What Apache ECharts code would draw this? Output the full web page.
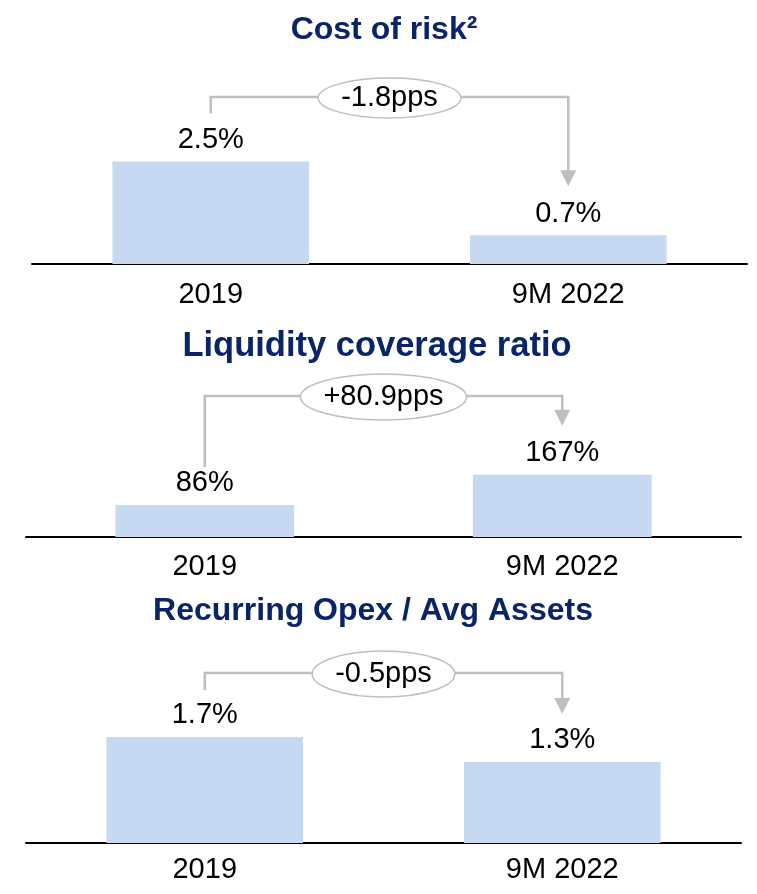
<!DOCTYPE html>
<html>
<head>
<meta charset="utf-8">
<script src="https://cdn.jsdelivr.net/npm/echarts@6/dist/echarts.min.js"></script>
<style>
  html, body { margin: 0; padding: 0; background: #ffffff; }
  #chart { width: 757px; height: 894px; }
</style>
</head>
<body>
<div id="chart"></div>
<script>
// Categories shared by all three panels
const categories = ['2019', '9M 2022'];

// Panel values
const costOfRisk = [2.5, 0.7];          // %
const liquidityCoverage = [86, 167];    // %
const opexToAssets = [1.7, 1.3];        // %

// Change annotations between the two periods
const changeLabels = ['-1.8pps', '+80.9pps', '-0.5pps'];

// Panel titles
const titles = ['Cost of risk\u00B2', 'Liquidity coverage ratio', 'Recurring Opex / Avg Assets'];

// Value label formats (decimals per panel)
const decimals = [1, 0, 1];

const FONT = '"Liberation Sans", Arial, sans-serif';
const NAVY = '#0A2468';
const BAR = '#C6D9F1';
const CONNECTOR = '#BFBFBF';
const LABEL_SIZE = 29;

// Layout of each panel: grid box, axis range, title placement, bracket geometry
const layout = [
  { grid: { left: 32, right: 10, top: 100, height: 164 }, yMax: 4,   barWidth: '55%', labelMargin: 16, titleX: 379, titleTop: 9,   titleSize: 32,   bracketY: 97,  stemGap: 48, tipGap: 49, ry: 20 },
  { grid: { left: 26, right: 16, top: 425, height: 112 }, yMax: 300, barWidth: '50%', labelMargin: 15, titleX: 372, titleTop: 324, titleSize: 34.5, bracketY: 396, stemGap: 38, tipGap: 49, ry: 23 },
  { grid: { left: 26, right: 16, top: 687, height: 156 }, yMax: 2.5, barWidth: '55%', labelMargin: 12, titleX: 368, titleTop: 590, titleSize: 32,   bracketY: 673, stemGap: 47, tipGap: 48, ry: 23 }
];

const seriesData = [costOfRisk, liquidityCoverage, opexToAssets];

const chart = echarts.init(document.getElementById('chart'), null, { renderer: 'canvas' });

const option = {
  animation: false,
  backgroundColor: '#ffffff',
  title: titles.map((t, i) => ({
    text: t,
    left: layout[i].titleX,
    top: layout[i].titleTop,
    textAlign: 'center',
    textStyle: { fontFamily: FONT, fontWeight: 'bold', fontSize: layout[i].titleSize, color: NAVY }
  })),
  grid: layout.map(l => Object.assign({ containLabel: false }, l.grid)),
  xAxis: layout.map((l, i) => ({
    type: 'category',
    gridIndex: i,
    data: categories,
    axisLine: { show: true, lineStyle: { color: '#000000', width: 2 } },
    axisTick: { show: false },
    axisLabel: { fontFamily: FONT, fontSize: LABEL_SIZE, color: '#000000', margin: l.labelMargin }
  })),
  yAxis: layout.map((l, i) => ({
    type: 'value',
    gridIndex: i,
    min: 0,
    max: l.yMax,
    show: false,
    splitLine: { show: false }
  })),
  series: seriesData.map((d, i) => ({
    type: 'bar',
    xAxisIndex: i,
    yAxisIndex: i,
    data: d,
    barWidth: layout[i].barWidth,
    itemStyle: { color: BAR },
    label: {
      show: true,
      position: 'top',
      distance: 7,
      fontFamily: FONT,
      fontSize: LABEL_SIZE,
      color: '#000000',
      formatter: p => p.value.toFixed(decimals[i]) + '%'
    }
  }))
};

chart.setOption(option);

// Change brackets: stem above the first bar, line across, arrow down to the second bar
const measureCtx = document.createElement('canvas').getContext('2d');
measureCtx.font = LABEL_SIZE + 'px ' + FONT;

const graphics = [];
seriesData.forEach((d, i) => {
  const l = layout[i];
  const p0 = chart.convertToPixel({ gridIndex: i }, [categories[0], d[0]]);
  const p1 = chart.convertToPixel({ gridIndex: i }, [categories[1], d[1]]);
  const y = l.bracketY;
  const cx = (p0[0] + p1[0]) / 2;
  const tw = measureCtx.measureText(changeLabels[i]).width;
  const rx = tw / 2 + 23;
  const ry = l.ry;
  const tipY = p1[1] - l.tipGap;
  const headH = 16, headW = 8;

  graphics.push({
    type: 'polyline',
    shape: { points: [[p0[0], p0[1] - l.stemGap], [p0[0], y], [cx - rx, y]] },
    style: { stroke: CONNECTOR, lineWidth: 2.5, fill: null },
    z: 10
  });
  graphics.push({
    type: 'polyline',
    shape: { points: [[cx + rx, y], [p1[0], y], [p1[0], tipY - headH + 1]] },
    style: { stroke: CONNECTOR, lineWidth: 2.5, fill: null },
    z: 10
  });
  graphics.push({
    type: 'polygon',
    shape: { points: [[p1[0] - headW, tipY - headH], [p1[0] + headW, tipY - headH], [p1[0], tipY]] },
    style: { fill: CONNECTOR },
    z: 10
  });
  graphics.push({
    type: 'ellipse',
    shape: { cx: cx, cy: y + 1, rx: rx, ry: ry },
    style: { fill: '#ffffff', stroke: CONNECTOR, lineWidth: 1.5 },
    z: 11
  });
  graphics.push({
    type: 'text',
    x: cx,
    y: y + 1,
    style: {
      text: changeLabels[i],
      fontFamily: FONT,
      fontSize: LABEL_SIZE,
      fill: '#000000',
      align: 'center',
      verticalAlign: 'middle'
    },
    z: 12
  });
});

chart.setOption({ graphic: graphics });
</script>
</body>
</html>
